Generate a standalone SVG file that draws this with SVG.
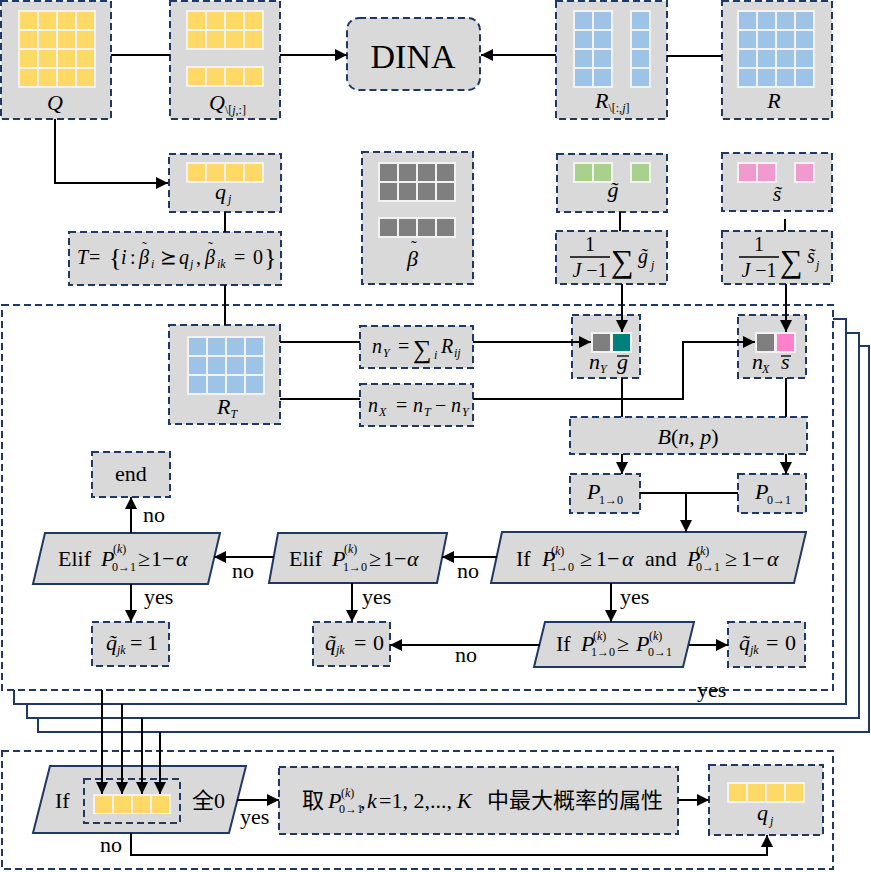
<svg xmlns="http://www.w3.org/2000/svg" width="871" height="872" viewBox="0 0 871 872">
<defs>
<style>
.box{fill:#d9d9d9;stroke:#1f3864;stroke-width:2;stroke-dasharray:7 4}
.cont{fill:#fff;stroke:#1f3864;stroke-width:2;stroke-dasharray:7 4}
.stack{fill:#fff;stroke:#1f3864;stroke-width:2}
.para{fill:#d9d9d9;stroke:#1f3864;stroke-width:2}
.ln{fill:none;stroke:#000;stroke-width:2}
.ar{marker-end:url(#ah)}
.gbg{fill:#f2f2f2}
.t{font-family:Liberation Serif,Times New Roman,serif;font-size:22px;fill:#000}
.cjk{font-family:Noto Sans CJK SC,Noto Sans CJK JP,sans-serif}
.m{font-style:italic}
.s{font-size:12px}
.bar{stroke:#000;stroke-width:1.3}
</style>
<marker id="ah" markerUnits="userSpaceOnUse" markerWidth="12" markerHeight="12" refX="12" refY="6" orient="auto"><path d="M0,0 L12,6 L0,12 z" fill="#000"/></marker>
<pattern id="pY" width="19" height="19" patternUnits="userSpaceOnUse"><rect x="2" y="2" width="17" height="17" fill="#ffd966"/></pattern>
<pattern id="pB" width="19" height="19" patternUnits="userSpaceOnUse"><rect x="2" y="2" width="17" height="17" fill="#9dc3e6"/></pattern>
<pattern id="pG" width="19" height="19" patternUnits="userSpaceOnUse"><rect x="2" y="2" width="17" height="17" fill="#7f7f7f"/></pattern>
<pattern id="pGr" width="19" height="19" patternUnits="userSpaceOnUse"><rect x="2" y="2" width="17" height="17" fill="#a9d18e"/></pattern>
<pattern id="pP" width="19" height="19" patternUnits="userSpaceOnUse"><rect x="2" y="2" width="17" height="17" fill="#f09acf"/></pattern>
</defs>

<g id="frames">
<rect class="stack" x="38" y="346" width="831" height="386"/>
<rect class="stack" x="27" y="333" width="832" height="385"/>
<rect class="stack" x="14" y="319" width="832" height="385"/>
<rect class="cont" x="2" y="305" width="831" height="385"/>
<rect class="cont" x="2" y="751" width="831" height="118"/>
</g>

<g id="Q">
<rect class="box" x="1" y="1" width="110" height="118"/>
<g transform="translate(18,10)"><rect class="gbg" width="78" height="78"/><rect width="78" height="78" fill="url(#pY)"/></g>
<text class="t m" x="55" y="110" text-anchor="middle">Q</text>
</g>
<g id="Qsub">
<rect class="box" x="170" y="1" width="110" height="118"/>
<g transform="translate(186,10)"><rect class="gbg" width="78" height="40"/><rect width="78" height="40" fill="url(#pY)"/></g>
<g transform="translate(186,66)"><rect class="gbg" width="78" height="21"/><rect width="78" height="21" fill="url(#pY)"/></g>
<text class="t" x="209" y="110"><tspan class="m">Q</tspan><tspan class="s" dy="4">\[</tspan><tspan class="s m">j</tspan><tspan class="s">,:]</tspan></text>
</g>
<g id="DINA">
<rect class="box" x="347" y="18" width="133" height="72" rx="12"/>
<text class="t" x="413" y="68" text-anchor="middle" style="font-size:34px">DINA</text>
</g>
<g id="Rsub">
<rect class="box" x="556" y="1" width="111" height="118"/>
<g transform="translate(573,10)"><rect class="gbg" width="40" height="78"/><rect width="40" height="78" fill="url(#pB)"/></g>
<g transform="translate(630,10)"><rect class="gbg" width="21" height="78"/><rect width="21" height="78" fill="url(#pB)"/></g>
<text class="t" x="595" y="108"><tspan class="m">R</tspan><tspan class="s" dy="4">\[:,</tspan><tspan class="s m">j</tspan><tspan class="s">]</tspan></text>
</g>
<g id="R">
<rect class="box" x="722" y="1" width="110" height="118"/>
<g transform="translate(737,10)"><rect class="gbg" width="78" height="78"/><rect width="78" height="78" fill="url(#pB)"/></g>
<text class="t m" x="774" y="108" text-anchor="middle">R</text>
</g>

<g id="qj">
<rect class="box" x="169" y="154" width="112" height="58"/>
<g transform="translate(186,162)"><rect class="gbg" width="78" height="21"/><rect width="78" height="21" fill="url(#pY)"/></g>
<text class="t m" x="215" y="199">q<tspan class="s" x="228" y="203">j</tspan></text>
</g>
<g id="T">
<rect class="box" x="69" y="232" width="212" height="53"/>
<text class="t" y="264" style="font-size:20px"><tspan class="m" x="77">T</tspan><tspan x="89">=</tspan><tspan x="109" y="266" style="font-size:26px">{</tspan><tspan class="m" x="121" y="264">i</tspan><tspan x="130">:</tspan><tspan class="m" x="139">β</tspan><tspan x="142" y="252" style="font-size:15px">˜</tspan><tspan class="s m" x="151" y="268">i</tspan><tspan x="160" y="264">⪰</tspan><tspan class="m" x="179">q</tspan><tspan class="s m" x="190" y="268">j</tspan><tspan x="196" y="264">,</tspan><tspan class="m" x="205">β</tspan><tspan x="208" y="252" style="font-size:15px">˜</tspan><tspan class="s m" x="217" y="268">ik</tspan><tspan x="234" y="264">=</tspan><tspan x="253">0</tspan><tspan x="264" y="266" style="font-size:26px">}</tspan></text>
</g>
<g id="beta">
<rect class="box" x="362" y="152" width="111" height="132"/>
<g transform="translate(378,162)"><rect class="gbg" width="78" height="40"/><rect width="78" height="40" fill="url(#pG)"/></g>
<g transform="translate(378,217)"><rect class="gbg" width="78" height="21"/><rect width="78" height="21" fill="url(#pG)"/></g>
<text class="t m" x="407" y="266">β<tspan font-style="normal" x="411" y="252" style="font-size:17px">˜</tspan></text>
</g>
<g id="g">
<rect class="box" x="557" y="154" width="110" height="58"/>
<g transform="translate(573,162)"><rect class="gbg" width="40" height="21"/><rect width="40" height="21" fill="url(#pGr)"/></g>
<g transform="translate(630,162)"><rect class="gbg" width="21" height="21"/><rect width="21" height="21" fill="url(#pGr)"/></g>
<text class="t m" x="613" y="197" text-anchor="middle">g̃</text>
</g>
<g id="sumg">
<rect class="box" x="556" y="231" width="111" height="53"/>
<text class="t" x="590" y="251" style="font-size:20px" text-anchor="middle">1</text>
<line class="bar" x1="570" y1="257" x2="610" y2="257"/>
<text class="t" x="590" y="277" style="font-size:20px" text-anchor="middle"><tspan class="m">J</tspan> −1</text>
<text class="t" x="611" y="272" style="font-size:32px">∑</text>
<text class="t m" x="638" y="263" style="font-size:20px">g̃<tspan class="s" x="651" y="269">j</tspan></text>
</g>
<g id="s">
<rect class="box" x="722" y="153" width="110" height="58"/>
<g transform="translate(737,162)"><rect class="gbg" width="40" height="21"/><rect width="40" height="21" fill="url(#pP)"/></g>
<g transform="translate(794,162)"><rect class="gbg" width="21" height="21"/><rect width="21" height="21" fill="url(#pP)"/></g>
<text class="t m" x="777" y="201" text-anchor="middle">s̃</text>
</g>
<g id="sums">
<rect class="box" x="722" y="231" width="110" height="53"/>
<text class="t" x="759" y="251" style="font-size:20px" text-anchor="middle">1</text>
<line class="bar" x1="739" y1="257" x2="779" y2="257"/>
<text class="t" x="759" y="277" style="font-size:20px" text-anchor="middle"><tspan class="m">J</tspan> −1</text>
<text class="t" x="780" y="272" style="font-size:32px">∑</text>
<text class="t m" x="807" y="263" style="font-size:20px">s̃<tspan class="s" x="816" y="269">j</tspan></text>
</g>

<g id="RT">
<rect class="box" x="169" y="325" width="111" height="99"/>
<g transform="translate(187,336)"><rect class="gbg" width="78" height="59"/><rect width="78" height="59" fill="url(#pB)"/></g>
<text class="t m" x="217" y="414">R<tspan class="s" dy="4">T</tspan></text>
</g>
<g id="nY">
<rect class="box" x="360" y="326" width="113" height="42"/>
<text class="t" y="353" style="font-size:20px"><tspan class="m" x="372">n</tspan><tspan class="s m" x="383" y="357">Y</tspan><tspan x="398" y="353">=</tspan><tspan x="413" y="358" style="font-size:26px">∑</tspan><tspan class="s m" x="434" y="359">i</tspan><tspan class="m" x="441" y="353">R</tspan><tspan class="s m" x="454" y="357">ij</tspan></text>
</g>
<g id="nX">
<rect class="box" x="360" y="384" width="113" height="42"/>
<text class="t" y="412" style="font-size:20px"><tspan class="m" x="368">n</tspan><tspan class="s m" x="379" y="416">X</tspan><tspan x="396" y="412">=</tspan><tspan class="m" x="413">n</tspan><tspan class="s m" x="424" y="416">T</tspan><tspan x="435" y="412">−</tspan><tspan class="m" x="451">n</tspan><tspan class="s m" x="462" y="416">Y</tspan></text>
</g>
<g id="nYg">
<rect class="box" x="572" y="315" width="68" height="63"/>
<rect class="gbg" x="591" y="332" width="41" height="21"/>
<rect x="593" y="334" width="17" height="17" fill="#7f7f7f"/>
<rect x="613" y="334" width="17" height="17" fill="#00807a"/>
<text class="t m" x="589" y="369">n<tspan class="s" x="600" y="373">Y</tspan><tspan x="617" y="369">g</tspan></text>
<line class="bar" x1="617" y1="356" x2="629" y2="356"/>
</g>
<g id="nXs">
<rect class="box" x="738" y="315" width="68" height="63"/>
<rect class="gbg" x="755" y="332" width="41" height="21"/>
<rect x="757" y="334" width="17" height="17" fill="#7f7f7f"/>
<rect x="777" y="334" width="17" height="17" fill="#ff80cc"/>
<text class="t m" x="752" y="369">n<tspan class="s" x="762" y="373">X</tspan><tspan x="781" y="369">s</tspan></text>
<line class="bar" x1="781" y1="356" x2="791" y2="356"/>
</g>
<g id="B">
<rect class="box" x="570" y="417" width="237" height="37"/>
<text class="t" x="688" y="444" text-anchor="middle"><tspan class="m">B</tspan>(<tspan class="m">n</tspan>, <tspan class="m">p</tspan>)</text>
</g>
<g id="P10">
<rect class="box" x="570" y="474" width="70" height="39"/>
<text class="t m" x="587" y="499">P<tspan class="s" font-style="normal" x="599" y="504">1→0</tspan></text>
</g>
<g id="P01">
<rect class="box" x="738" y="474" width="68" height="39"/>
<text class="t m" x="755" y="499">P<tspan class="s" font-style="normal" x="767" y="504">0→1</tspan></text>
</g>

<g id="ifand">
<polygon class="para" points="502,532 806,532 794,583 491,583"/>
<text class="t" y="566"><tspan x="516">If</tspan><tspan class="m" x="542">P</tspan><tspan class="s" x="551" y="555">(<tspan class="m">k</tspan>)</tspan><tspan class="s" x="550" y="571">1→0</tspan><tspan x="580" y="566">≥</tspan><tspan x="596">1−</tspan><tspan class="m" x="622">α</tspan><tspan x="645">and</tspan><tspan class="m" x="687">P</tspan><tspan class="s" x="696" y="555">(<tspan class="m">k</tspan>)</tspan><tspan class="s" x="696" y="571">0→1</tspan><tspan x="725" y="566">≥</tspan><tspan x="741">1−</tspan><tspan class="m" x="767">α</tspan></text>
</g>
<g id="elif10">
<polygon class="para" points="278,533 447,533 437,583 269,583"/>
<text class="t" y="566"><tspan x="289">Elif</tspan><tspan class="m" x="332">P</tspan><tspan class="s" x="344" y="553">(<tspan class="m">k</tspan>)</tspan><tspan class="s" x="343" y="571">1→0</tspan><tspan x="369" y="566">≥</tspan><tspan x="383">1−</tspan><tspan class="m" x="407">α</tspan></text>
</g>
<g id="elif01">
<polygon class="para" points="45,533 220,533 208,584 33,584"/>
<text class="t" y="566"><tspan x="58">Elif</tspan><tspan class="m" x="101">P</tspan><tspan class="s" x="113" y="553">(<tspan class="m">k</tspan>)</tspan><tspan class="s" x="112" y="571">0→1</tspan><tspan x="138" y="566">≥</tspan><tspan x="151">1−</tspan><tspan class="m" x="176">α</tspan></text>
</g>
<g id="end">
<rect class="box" x="92" y="452" width="78" height="45"/>
<text class="t" x="131" y="481" text-anchor="middle">end</text>
</g>
<g id="q1">
<rect class="box" x="92" y="622" width="77" height="44"/>
<text class="t" y="650"><tspan class="m" x="106">q̃</tspan><tspan class="s m" x="117" y="654">jk</tspan><tspan x="130" y="650">=</tspan><tspan x="147">1</tspan></text>
</g>
<g id="q0a">
<rect class="box" x="313" y="622" width="77" height="44"/>
<text class="t" y="650"><tspan class="m" x="325">q̃</tspan><tspan class="s m" x="336" y="654">jk</tspan><tspan x="354" y="650">=</tspan><tspan x="373">0</tspan></text>
</g>
<g id="ifge">
<polygon class="para" points="545,622 694,622 683,667 534,667"/>
<text class="t" y="651"><tspan x="556">If</tspan><tspan class="m" x="581">P</tspan><tspan class="s" x="593" y="640">(<tspan class="m">k</tspan>)</tspan><tspan class="s" x="591" y="656">1→0</tspan><tspan x="617" y="651">≥</tspan><tspan class="m" x="636">P</tspan><tspan class="s" x="649" y="640">(<tspan class="m">k</tspan>)</tspan><tspan class="s" x="648" y="656">0→1</tspan></text>
</g>
<g id="q0b">
<rect class="box" x="728" y="622" width="77" height="45"/>
<text class="t" y="650"><tspan class="m" x="739">q̃</tspan><tspan class="s m" x="750" y="654">jk</tspan><tspan x="766" y="650">=</tspan><tspan x="785">0</tspan></text>
</g>

<g id="ifall0">
<polygon class="para" points="50,766 246,766 229,833 33,833"/>
<text class="t" x="55" y="808">If</text>
<rect class="box" x="84" y="779" width="96" height="44"/>
<g transform="translate(93,794)"><rect class="gbg" width="78" height="20"/><rect width="78" height="20" fill="url(#pY)"/></g>
<text class="t" x="192" y="808"><tspan class="cjk">全</tspan>0</text>
</g>
<g id="take">
<rect class="box" x="279" y="767" width="399" height="67"/>
<text class="t" y="808"><tspan class="cjk" x="302">取</tspan><tspan class="m" x="328">P</tspan><tspan class="s" x="341" y="797">(<tspan class="m">k</tspan>)</tspan><tspan class="s" x="339" y="813">0→1</tspan><tspan x="360" y="808">,</tspan><tspan class="m" x="367">k</tspan><tspan x="379">=1, 2,...,</tspan><tspan class="m" x="457">K</tspan><tspan class="cjk" x="487">中最大概率的属性</tspan></text>
</g>
<g id="qjb">
<rect class="box" x="709" y="765" width="114" height="70"/>
<g transform="translate(727,782)"><rect class="gbg" width="78" height="21"/><rect width="78" height="21" fill="url(#pY)"/></g>
<text class="t m" x="757" y="820">q<tspan class="s" x="770" y="825">j</tspan></text>
</g>

<g id="connectors">
<line class="ln" x1="111" y1="55" x2="170" y2="55"/>
<line class="ln ar" x1="280" y1="55" x2="347" y2="55"/>
<line class="ln ar" x1="556" y1="55" x2="481" y2="55"/>
<line class="ln" x1="667" y1="56" x2="722" y2="56"/>
<path class="ln ar" d="M55,119 V183 H168"/>
<line class="ln" x1="225" y1="212" x2="225" y2="232"/>
<line class="ln" x1="225" y1="285" x2="225" y2="325"/>
<line class="ln" x1="620" y1="212" x2="620" y2="231"/>
<line class="ln" x1="785" y1="219" x2="785" y2="231"/>
<line class="ln ar" x1="622" y1="284" x2="622" y2="332"/>
<line class="ln ar" x1="786" y1="284" x2="786" y2="332"/>
<line class="ln" x1="280" y1="342" x2="360" y2="342"/>
<line class="ln ar" x1="473" y1="342" x2="591" y2="342"/>
<line class="ln" x1="280" y1="399" x2="360" y2="399"/>
<path class="ln ar" d="M473,399 H683 V342 H755"/>
<line class="ln" x1="622" y1="378" x2="622" y2="417"/>
<line class="ln" x1="786" y1="378" x2="786" y2="417"/>
<line class="ln ar" x1="622" y1="454" x2="622" y2="474"/>
<line class="ln ar" x1="786" y1="454" x2="786" y2="474"/>
<line class="ln" x1="640" y1="493" x2="738" y2="493"/>
<line class="ln ar" x1="686" y1="493" x2="686" y2="532"/>
<line class="ln ar" x1="497" y1="557" x2="442" y2="557"/>
<line class="ln ar" x1="274" y1="557" x2="214" y2="557"/>
<line class="ln ar" x1="131" y1="533" x2="131" y2="497"/>
<line class="ln ar" x1="131" y1="584" x2="131" y2="622"/>
<line class="ln ar" x1="352" y1="583" x2="352" y2="622"/>
<line class="ln ar" x1="611" y1="583" x2="611" y2="622"/>
<line class="ln ar" x1="540" y1="645" x2="390" y2="645"/>
<line class="ln ar" x1="689" y1="645" x2="728" y2="645"/>
<line class="ln ar" x1="102" y1="690" x2="102" y2="794"/>
<line class="ln ar" x1="122" y1="704" x2="122" y2="794"/>
<line class="ln ar" x1="142" y1="718" x2="142" y2="794"/>
<line class="ln ar" x1="160" y1="732" x2="160" y2="794"/>
<line class="ln ar" x1="237" y1="800" x2="279" y2="800"/>
<line class="ln ar" x1="678" y1="800" x2="709" y2="800"/>
<path class="ln ar" d="M131,833 V855 H767 V835"/>
</g>

<g id="labels">
<text class="t" x="143" y="522">no</text>
<text class="t" x="232" y="578">no</text>
<text class="t" x="144" y="604">yes</text>
<text class="t" x="362" y="604">yes</text>
<text class="t" x="457" y="578">no</text>
<text class="t" x="620" y="604">yes</text>
<text class="t" x="455" y="662">no</text>
<text class="t" x="697" y="697">yes</text>
<text class="t" x="240" y="824">yes</text>
<text class="t" x="100" y="852">no</text>
</g>
</svg>
